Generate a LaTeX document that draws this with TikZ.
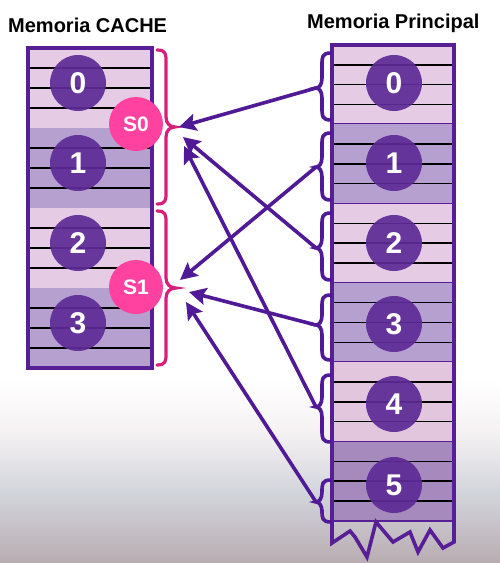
\documentclass[tikz,border=0pt]{standalone}
\usepackage{fontspec}
\setmainfont{Liberation Sans}
\usetikzlibrary{arrows.meta}
\definecolor{lightblk}{RGB}{229,204,228}
\definecolor{darkblk}{RGB}{182,160,208}
\definecolor{lightfour}{RGB}{226,198,222}
\definecolor{darkfive}{RGB}{166,138,190}
\definecolor{boxline}{RGB}{88,30,150}
\definecolor{circ}{RGB}{94,44,150}
\definecolor{spink}{RGB}{255,66,160}
\definecolor{bpink}{RGB}{214,30,122}
\definecolor{arrowc}{RGB}{80,26,150}
\definecolor{bgbot}{RGB}{184,172,178}
\definecolor{bgmid}{RGB}{212,214,221}
\definecolor{bgpale}{RGB}{246,242,243}
% #1 style, #2 x of ends, #3 x of spine, #4 x of tip, #5 y top, #6 y tip, #7 y bottom
\newcommand{\vbrace}[7]{\draw[#1] (#2,#5) .. controls (#3,#5) and (#3,#5+4) .. (#3,#5+12) -- (#3,#6-10) .. controls (#3,#6-3) and ({(#3+#4)/2},#6) .. (#4,#6) .. controls ({(#3+#4)/2},#6) and (#3,#6+3) .. (#3,#6+10) -- (#3,#7-12) .. controls (#3,#7-4) and (#3,#7) .. (#2,#7);}
\begin{document}
\begin{tikzpicture}[x=1pt,y=-1pt,
  num/.style={circle, fill=circ, fill opacity=0.93, text opacity=1, minimum size=56pt, inner sep=0pt, text=white, font=\fontsize{30}{30}\selectfont\bfseries},
  sn/.style={circle, fill=spink, minimum size=54pt, inner sep=0pt, text=white, font=\fontsize{21}{21}\selectfont\bfseries},
  rowline/.style={black, line width=1.5pt},
  sepline/.style={boxline, line width=1.8pt},
  frame/.style={draw=boxline, line width=3.6pt},
  pbrace/.style={bpink, line width=3.2pt, line cap=round},
  mbrace/.style={arrowc, line width=3.6pt, line cap=round},
  arr/.style={arrowc, line width=3.6pt, -{Stealth[length=17pt,width=17pt,inset=3pt]}},
  title/.style={anchor=base west, inner sep=0pt, font=\fontsize{20}{20}\selectfont\bfseries}]
\useasboundingbox (0,0) rectangle (500,563);
\fill[white] (0,0) rectangle (500,563);
\shade[top color=white, bottom color=bgpale] (0,380) rectangle (500,430.5);
\shade[top color=bgpale, bottom color=bgmid] (0,430) rectangle (500,490.5);
\shade[top color=bgmid, bottom color=bgbot] (0,490) rectangle (500,563);

% titles
\node[title] (tc) at (8,32) {Memoria CACHE};
\node[title] (tp) at (307,28.5) {Memoria Principal};

% cache memory
\foreach \i/\c in {0/lightblk,1/darkblk,2/lightblk,3/darkblk}{
  \pgfmathsetmacro\bt{48+80*\i}
  \fill[\c] (28,\bt) rectangle (152,\bt+80);
  \foreach \k in {1,2,3} \draw[rowline] (28,\bt+20*\k) -- (152,\bt+20*\k);
}
\draw[frame] (28,48) rectangle (152,368);
\node[num] (c0) at (78,83) {0};
\node[num] (c1) at (78,163) {1};
\node[num] (c2) at (78,243) {2};
\node[num] (c3) at (78,323) {3};
\node[sn] (s0) at (136,124) {S0};
\node[sn] (s1) at (136,287) {S1};
\vbrace{pbrace}{157}{166}{175}{50}{127}{204}
\vbrace{pbrace}{157}{166}{176}{211}{288}{365}

% main memory
\foreach \i/\c in {0/lightblk,1/darkblk,2/lightblk,3/darkblk,4/lightfour,5/darkfive}{
  \pgfmathsetmacro\bt{45+79.3*\i}
  \fill[\c] (332,\bt) rectangle (454,\bt+79.3);
  \foreach \k in {1,2,3} \draw[rowline] (332,\bt+19.8*\k) -- (454,\bt+19.8*\k);
  \draw[sepline] (332,\bt+79.3) -- (454,\bt+79.3);
}
\draw[frame, line join=miter] (332,45) -- (332,543) -- (350,531) -- (355,537) -- (367,557) -- (376,522) -- (393,542) -- (410,532) -- (418,552) -- (430,530) -- (443,548) -- (454,542) -- (454,45) -- cycle;
\node[num] (m0) at (394,83) {0};
\node[num] (m1) at (394,163) {1};
\node[num] (m2) at (394,243) {2};
\node[num] (m3) at (394,324) {3};
\node[num] (m4) at (394,404) {4};
\node[num] (m5) at (394,485) {5};

% main memory braces
\vbrace{mbrace}{331}{322}{316}{53}{88}{120}
\vbrace{mbrace}{331}{322}{316}{133}{167}{200}
\vbrace{mbrace}{331}{322}{316}{213}{248}{280}
\vbrace{mbrace}{331}{322}{316}{295}{325}{360}
\vbrace{mbrace}{331}{322}{316}{375}{407}{442}
\vbrace{mbrace}{331}{322}{316}{480}{502}{522}

% arrow end points
\coordinate (b0) at (316,88);
\coordinate (b1) at (316,167);
\coordinate (b2) at (316,248);
\coordinate (b3) at (316,325);
\coordinate (b4) at (316,407);
\coordinate (b5) at (316,502);
\coordinate (t0) at (179,127);
\coordinate (t1) at (180,280);
\coordinate (t2) at (183,137);
\coordinate (t3) at (189,292);
\coordinate (t4) at (184,146);
\coordinate (t5) at (186,302);
\draw[arr] (b0) -- (t0);
\draw[arr] (b1) -- (t1);
\draw[arr] (b2) -- (t2);
\draw[arr] (b3) -- (t3);
\draw[arr] (b4) -- (t4);
\draw[arr] (b5) -- (t5);
\end{tikzpicture}
\end{document}
